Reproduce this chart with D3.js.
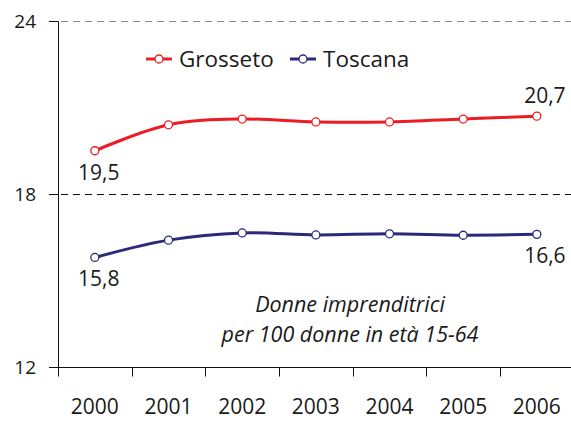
<!DOCTYPE html>
<html>
<head>
<meta charset="utf-8">
<script src="https://cdn.jsdelivr.net/npm/d3@7"></script>
<style>
  body { margin: 0; background: #fff; }
  svg { display: block; font-family: "Open Sans", sans-serif; }
</style>
</head>
<body>
<div id="chart"></div>
<script>
var years = ['2000', '2001', '2002', '2003', '2004', '2005', '2006'];
var grosseto = [19.5, 20.4, 20.6, 20.5, 20.5, 20.6, 20.7];
var toscana = [15.8, 16.4, 16.65, 16.58, 16.62, 16.57, 16.6];
var yTicks = [12, 18, 24];
var seriesNames = ['Grosseto', 'Toscana'];
var noteLines = ['Donne imprenditrici', 'per 100 donne in età 15-64'];

var width = 571, height = 421;
var colors = { Grosseto: '#ec1c24', Toscana: '#2b2a7a' };

var svg = d3.select('#chart').append('svg')
    .attr('width', width)
    .attr('height', height);

var x = d3.scaleBand()
    .domain(years)
    .range([58, 573.7]);

var y = d3.scaleLinear()
    .domain([12, 24])
    .range([367, 21]);

var fmt = function (v) { return d3.format('.1f')(v).replace('.', ','); };

// Gridlines
svg.append('line')
    .attr('x1', 49).attr('x2', width)
    .attr('y1', y(24) + 0.5).attr('y2', y(24) + 0.5)
    .attr('stroke', '#8a8a8a')
    .attr('stroke-width', 1)
    .attr('stroke-dasharray', '7,5');

svg.append('line')
    .attr('x1', 49).attr('x2', width)
    .attr('y1', y(18) + 0.5).attr('y2', y(18) + 0.5)
    .attr('stroke', '#111')
    .attr('stroke-width', 1)
    .attr('stroke-dasharray', '7,5');

// Y axis
var yAxis = svg.append('g')
    .attr('transform', 'translate(58,0)')
    .call(d3.axisLeft(y).tickValues(yTicks).tickSize(9).tickPadding(13));

yAxis.select('.domain').attr('stroke', '#111');
yAxis.selectAll('.tick line').attr('stroke', '#111');
yAxis.selectAll('text')
    .attr('font-size', 19)
    .attr('fill', '#1a1a1a')
    .style('font-family', '"Open Sans", sans-serif');

// X axis
var xAxis = svg.append('g')
    .attr('transform', 'translate(0,' + (y(12) + 0.5) + ')');

xAxis.append('line')
    .attr('x1', 49).attr('x2', width)
    .attr('stroke', '#111');

xAxis.selectAll('line.tick')
    .data(years)
    .enter()
  .append('line')
    .attr('class', 'tick')
    .attr('x1', function (d) { return Math.round(x(d)) + 0.5; })
    .attr('x2', function (d) { return Math.round(x(d)) + 0.5; })
    .attr('y1', 0)
    .attr('y2', 9)
    .attr('stroke', '#111');

xAxis.selectAll('text')
    .data(years)
    .enter()
  .append('text')
    .attr('x', function (d) { return x(d) + x.bandwidth() / 2; })
    .attr('y', 46)
    .attr('text-anchor', 'middle')
    .attr('font-size', 21)
    .attr('fill', '#1a1a1a')
    .text(function (d) { return d; });

// Lines
var line = d3.line()
    .x(function (d, i) { return x(years[i]) + x.bandwidth() / 2; })
    .y(function (d) { return y(d); })
    .curve(d3.curveCatmullRom.alpha(0.5));

var series = [
  { name: seriesNames[0], values: grosseto },
  { name: seriesNames[1], values: toscana }
];

series.forEach(function (s) {
  var g = svg.append('g');

  g.append('path')
      .datum(s.values)
      .attr('d', line)
      .attr('fill', 'none')
      .attr('stroke', colors[s.name])
      .attr('stroke-width', 3);

  g.selectAll('circle')
      .data(s.values)
      .enter()
    .append('circle')
      .attr('cx', function (d, i) { return x(years[i]) + x.bandwidth() / 2; })
      .attr('cy', function (d) { return y(d); })
      .attr('r', 4)
      .attr('fill', '#fff')
      .attr('stroke', colors[s.name])
      .attr('stroke-width', 1.3);

  // first and last value labels
  var last = s.values.length - 1;
  [0, last].forEach(function (i) {
    var above = (s.name === 'Grosseto' && i === last);
    g.append('text')
        .attr('x', x(years[i]) + x.bandwidth() / 2 + (i === 0 ? 4 : 8))
        .attr('y', y(s.values[i]) + (above ? -13 : 29))
        .attr('text-anchor', 'middle')
        .attr('font-size', 21)
        .attr('fill', '#1a1a1a')
        .text(fmt(s.values[i]));
  });
});

// Legend
var legend = svg.append('g')
    .attr('transform', 'translate(146,59)');

var legendItems = legend.selectAll('g')
    .data(seriesNames)
    .enter()
  .append('g')
    .attr('transform', function (d, i) { return 'translate(' + (i * 144) + ',0)'; });

legendItems.append('line')
    .attr('x1', 0).attr('x2', 26)
    .attr('stroke', function (d) { return colors[d]; })
    .attr('stroke-width', 3);

legendItems.append('circle')
    .attr('cx', 13)
    .attr('r', 4)
    .attr('fill', '#fff')
    .attr('stroke', function (d) { return colors[d]; })
    .attr('stroke-width', 1.3);

legendItems.append('text')
    .attr('x', 33)
    .attr('y', 8)
    .attr('font-size', 22.5)
    .attr('fill', '#1a1a1a')
    .text(function (d) { return d; });

// Note
svg.append('g').selectAll('text')
    .data(noteLines)
    .enter()
  .append('text')
    .attr('x', 350)
    .attr('y', function (d, i) { return 312 + i * 30; })
    .attr('text-anchor', 'middle')
    .attr('font-size', 21.5)
    .attr('font-style', 'italic')
    .attr('fill', '#1a1a1a')
    .text(function (d) { return d; });
</script>
</body>
</html>
